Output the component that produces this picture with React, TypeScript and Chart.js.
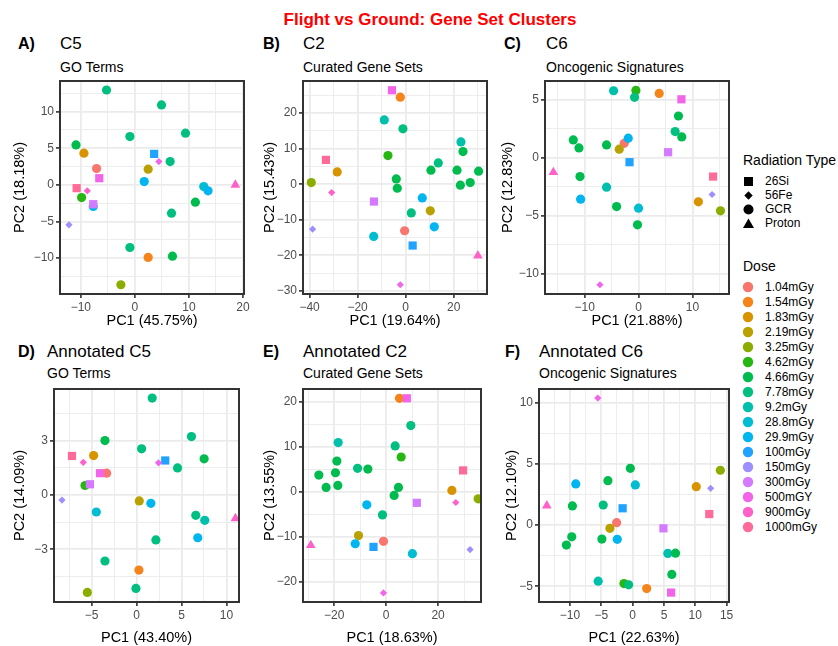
import React, { useEffect, useRef } from "react";
import { Chart, registerables } from "chart.js";

Chart.register(...registerables);

const FONT = "'Liberation Sans', Arial, Helvetica, sans-serif";

// ---------- legend categories ----------
const DOSES = [
  "1.04mGy", "1.54mGy", "1.83mGy", "2.19mGy", "3.25mGy", "4.62mGy", "4.66mGy",
  "7.78mGy", "9.2mGy", "28.8mGy", "29.9mGy", "100mGy", "150mGy", "300mGy",
  "500mGY", "900mGy", "1000mGy",
];
const DOSE_COLORS = [
  "#F8766D", "#F5841A", "#D89400", "#B8A100", "#8BAD00", "#26B712", "#00BC4F",
  "#00BF80", "#00C0AB", "#00BDD2", "#00B5F0", "#20A2FF", "#9C8FFF", "#D47AFF",
  "#F265E8", "#FE61C8", "#FF6B99",
];
const TYPES = ["26Si", "56Fe", "GCR", "Proton"];

// ---------- data: [PC1, PC2, dose, radiation type] ----------
type Pt = [number, number, string, string];

const C5_POINTS: Pt[] = [
  [-5.24, 12.95, "7.78mGy", "GCR"],
  [4.93, 10.91, "7.78mGy", "GCR"],
  [-0.92, 6.59, "7.78mGy", "GCR"],
  [9.37, 7.05, "7.78mGy", "GCR"],
  [-10.9, 5.45, "4.66mGy", "GCR"],
  [-9.43, 4.32, "1.83mGy", "GCR"],
  [-7.09, 2.23, "1.04mGy", "GCR"],
  [-6.59, 0.91, "500mGY", "26Si"],
  [-10.78, -0.45, "1000mGy", "26Si"],
  [-8.81, -0.82, "900mGy", "56Fe"],
  [-9.86, -1.73, "4.62mGy", "GCR"],
  [-7.7, -2.95, "29.9mGy", "GCR"],
  [-7.7, -2.64, "300mGy", "26Si"],
  [-12.2, -5.45, "150mGy", "56Fe"],
  [1.73, 0.45, "29.9mGy", "GCR"],
  [3.57, 4.23, "100mGy", "26Si"],
  [4.44, 3.18, "500mGY", "56Fe"],
  [2.46, 2.14, "2.19mGy", "GCR"],
  [6.53, 3.18, "7.78mGy", "GCR"],
  [11.2, -2.36, "4.66mGy", "GCR"],
  [6.78, -3.86, "7.78mGy", "GCR"],
  [12.75, -0.23, "28.8mGy", "GCR"],
  [13.55, -0.82, "29.9mGy", "GCR"],
  [18.6, 0.0, "900mGy", "Proton"],
  [-0.92, -8.55, "7.78mGy", "GCR"],
  [6.96, -9.73, "4.66mGy", "GCR"],
  [2.46, -9.91, "1.54mGy", "GCR"],
  [-2.59, -13.64, "3.25mGy", "GCR"],
];

const C2_POINTS: Pt[] = [
  [-5.69, 26.45, "500mGY", "26Si"],
  [-2.22, 24.5, "1.54mGy", "GCR"],
  [-8.89, 18.1, "9.2mGy", "GCR"],
  [-1.11, 15.6, "7.78mGy", "GCR"],
  [-7.36, 8.07, "4.62mGy", "GCR"],
  [-33.2, 6.85, "1000mGy", "26Si"],
  [-28.5, 3.47, "1.83mGy", "GCR"],
  [-39.3, 0.47, "3.25mGy", "GCR"],
  [-30.8, -2.35, "900mGy", "56Fe"],
  [-3.89, 1.5, "4.66mGy", "GCR"],
  [-3.47, -1.13, "4.66mGy", "GCR"],
  [-13.2, -4.88, "300mGy", "26Si"],
  [-38.75, -12.66, "150mGy", "56Fe"],
  [-13.3, -14.7, "28.8mGy", "GCR"],
  [-0.42, -13.1, "1.04mGy", "GCR"],
  [2.92, -17.26, "100mGy", "26Si"],
  [2.36, -8.07, "7.78mGy", "GCR"],
  [6.94, -3.85, "29.9mGy", "GCR"],
  [10.28, -7.5, "2.19mGy", "GCR"],
  [11.94, -12.0, "29.9mGy", "GCR"],
  [10.56, 3.94, "4.66mGy", "GCR"],
  [13.6, 6.0, "7.78mGy", "GCR"],
  [21.4, 3.94, "4.66mGy", "GCR"],
  [23.05, 11.9, "9.2mGy", "GCR"],
  [23.9, 9.19, "4.66mGy", "GCR"],
  [22.8, -0.28, "4.66mGy", "GCR"],
  [26.9, 0.47, "4.66mGy", "GCR"],
  [30.4, 3.66, "4.66mGy", "GCR"],
  [30.1, -20.1, "900mGy", "Proton"],
  [-2.22, -28.3, "500mGY", "56Fe"],
];

const C6_POINTS: Pt[] = [
  [-4.63, 5.8, "9.2mGy", "GCR"],
  [-0.49, 5.83, "4.62mGy", "GCR"],
  [-0.74, 5.23, "7.78mGy", "GCR"],
  [3.83, 5.57, "1.54mGy", "GCR"],
  [7.96, 5.06, "500mGY", "26Si"],
  [7.41, 3.62, "4.66mGy", "GCR"],
  [6.79, 2.27, "7.78mGy", "GCR"],
  [8.02, 1.81, "4.66mGy", "GCR"],
  [-12.1, 1.55, "4.66mGy", "GCR"],
  [-11.05, 0.86, "4.66mGy", "GCR"],
  [-5.93, 1.12, "4.66mGy", "GCR"],
  [-2.65, 1.26, "1.04mGy", "GCR"],
  [-1.91, 1.7, "29.9mGy", "GCR"],
  [-3.58, 0.75, "2.19mGy", "GCR"],
  [-1.67, -0.37, "100mGy", "26Si"],
  [5.49, 0.49, "300mGy", "26Si"],
  [-15.8, -1.24, "900mGy", "Proton"],
  [-10.86, -1.61, "4.66mGy", "GCR"],
  [-5.93, -2.53, "9.2mGy", "GCR"],
  [-10.74, -3.56, "29.9mGy", "GCR"],
  [-4.07, -4.2, "4.66mGy", "GCR"],
  [0.0, -4.34, "28.8mGy", "GCR"],
  [-0.19, -5.78, "4.66mGy", "GCR"],
  [13.83, -1.61, "1000mGy", "26Si"],
  [13.64, -3.16, "150mGy", "56Fe"],
  [11.1, -3.79, "1.83mGy", "GCR"],
  [15.2, -4.57, "3.25mGy", "GCR"],
  [-7.16, -10.95, "500mGY", "56Fe"],
];

const AC5_POINTS: Pt[] = [
  [1.74, 5.34, "7.78mGy", "GCR"],
  [6.11, 3.22, "7.78mGy", "GCR"],
  [-3.52, 3.0, "4.66mGy", "GCR"],
  [-4.78, 2.17, "1.83mGy", "GCR"],
  [0.56, 2.54, "7.78mGy", "GCR"],
  [7.52, 1.99, "4.66mGy", "GCR"],
  [3.19, 1.9, "100mGy", "26Si"],
  [2.44, 1.77, "500mGY", "56Fe"],
  [4.56, 1.49, "7.78mGy", "GCR"],
  [-7.19, 2.15, "1000mGy", "26Si"],
  [-5.93, 1.8, "900mGy", "56Fe"],
  [-3.33, 1.2, "1.04mGy", "GCR"],
  [-4.07, 1.2, "500mGY", "26Si"],
  [-5.74, 0.52, "4.62mGy", "GCR"],
  [-5.19, 0.59, "300mGy", "26Si"],
  [-8.3, -0.28, "150mGy", "56Fe"],
  [0.3, -0.33, "2.19mGy", "GCR"],
  [1.59, -0.46, "29.9mGy", "GCR"],
  [-4.48, -0.94, "28.8mGy", "GCR"],
  [6.59, -1.12, "7.78mGy", "GCR"],
  [7.59, -1.4, "9.2mGy", "GCR"],
  [11.0, -1.29, "900mGy", "Proton"],
  [6.81, -2.36, "29.9mGy", "GCR"],
  [2.15, -2.48, "7.78mGy", "GCR"],
  [-3.52, -3.64, "7.78mGy", "GCR"],
  [0.26, -4.14, "1.54mGy", "GCR"],
  [-0.07, -5.15, "7.78mGy", "GCR"],
  [-5.48, -5.37, "3.25mGy", "GCR"],
];

const AC2_POINTS: Pt[] = [
  [5.13, 20.7, "1.54mGy", "GCR"],
  [7.95, 20.7, "500mGY", "26Si"],
  [9.49, 14.67, "7.78mGy", "GCR"],
  [-18.46, 10.9, "9.2mGy", "GCR"],
  [3.46, 10.15, "7.78mGy", "GCR"],
  [5.77, 7.7, "4.62mGy", "GCR"],
  [-18.97, 6.81, "4.66mGy", "GCR"],
  [-11.0, 5.19, "7.78mGy", "GCR"],
  [-7.05, 5.04, "4.66mGy", "GCR"],
  [-25.9, 3.7, "4.66mGy", "GCR"],
  [-19.5, 4.22, "4.66mGy", "GCR"],
  [-23.1, 0.96, "4.66mGy", "GCR"],
  [-18.6, 1.41, "4.66mGy", "GCR"],
  [4.74, 0.96, "4.66mGy", "GCR"],
  [3.08, -0.81, "4.66mGy", "GCR"],
  [-7.44, -2.89, "29.9mGy", "GCR"],
  [-1.41, -5.11, "7.78mGy", "GCR"],
  [11.8, -2.44, "300mGy", "26Si"],
  [29.6, 4.74, "1000mGy", "26Si"],
  [25.3, 0.3, "1.83mGy", "GCR"],
  [26.8, -2.37, "900mGy", "56Fe"],
  [35.4, -1.56, "3.25mGy", "GCR"],
  [-10.64, -9.7, "2.19mGy", "GCR"],
  [-11.9, -11.5, "29.9mGy", "GCR"],
  [-29.0, -11.85, "900mGy", "Proton"],
  [-4.87, -12.2, "100mGy", "26Si"],
  [-1.03, -10.96, "1.04mGy", "GCR"],
  [10.1, -13.7, "28.8mGy", "GCR"],
  [32.3, -12.8, "150mGy", "56Fe"],
  [-1.03, -22.4, "500mGY", "56Fe"],
];

const AC6_POINTS: Pt[] = [
  [-5.56, 10.38, "500mGY", "56Fe"],
  [-0.37, 4.64, "4.66mGy", "GCR"],
  [14.0, 4.48, "3.25mGy", "GCR"],
  [-9.08, 3.36, "29.9mGy", "GCR"],
  [-3.95, 3.63, "4.66mGy", "GCR"],
  [0.43, 3.28, "28.8mGy", "GCR"],
  [10.15, 3.14, "1.83mGy", "GCR"],
  [12.45, 3.0, "150mGy", "56Fe"],
  [-13.7, 1.58, "900mGy", "Proton"],
  [-9.62, 1.56, "4.66mGy", "GCR"],
  [-4.7, 1.64, "7.78mGy", "GCR"],
  [-1.6, 1.37, "100mGy", "26Si"],
  [12.23, 0.9, "1000mGy", "26Si"],
  [-2.56, 0.19, "1.04mGy", "GCR"],
  [-3.63, -0.27, "2.19mGy", "GCR"],
  [4.91, -0.27, "300mGy", "26Si"],
  [-9.72, -0.96, "4.66mGy", "GCR"],
  [-10.58, -1.64, "4.66mGy", "GCR"],
  [-4.91, -1.15, "4.66mGy", "GCR"],
  [-2.46, -1.17, "29.9mGy", "GCR"],
  [5.61, -2.32, "9.2mGy", "GCR"],
  [6.84, -2.3, "4.66mGy", "GCR"],
  [6.25, -4.04, "4.66mGy", "GCR"],
  [-5.5, -4.59, "9.2mGy", "GCR"],
  [-1.39, -4.78, "4.62mGy", "GCR"],
  [-0.64, -4.89, "7.78mGy", "GCR"],
  [2.24, -5.19, "1.54mGy", "GCR"],
  [6.14, -5.52, "500mGY", "26Si"],
];

// ---------- axis ranges and tick labels ----------
const C5_X_RANGE = [-13.86, 20.2];
const C5_Y_RANGE = [-14.9, 14.18];
const C5_X_TICKS = [-10, 0, 10, 20];
const C5_Y_TICKS = [-10, -5, 0, 5, 10];

const C2_X_RANGE = [-42.75, 33.9];
const C2_Y_RANGE = [-30.9, 29.05];
const C2_X_TICKS = [-40, -20, 0, 20];
const C2_Y_TICKS = [-30, -20, -10, 0, 10, 20];

const C6_X_RANGE = [-17.35, 16.78];
const C6_Y_RANGE = [-11.75, 6.64];
const C6_X_TICKS = [-10, 0, 10];
const C6_Y_TICKS = [-10, -5, 0, 5];

const AC5_X_RANGE = [-9.19, 11.4];
const AC5_Y_RANGE = [-5.9, 5.84];
const AC5_X_TICKS = [-5, 0, 5, 10];
const AC5_Y_TICKS = [-3, 0, 3];

const AC2_X_RANGE = [-32.0, 36.5];
const AC2_Y_RANGE = [-24.4, 22.76];
const AC2_X_TICKS = [-20, 0, 20];
const AC2_Y_TICKS = [-20, -10, 0, 10, 20];

const AC6_X_RANGE = [-14.95, 15.38];
const AC6_Y_RANGE = [-6.29, 11.12];
const AC6_X_TICKS = [-10, -5, 0, 5, 10, 15];
const AC6_Y_TICKS = [-5, 0, 5, 10];

// ---------- helpers ----------
const SHAPE: Record<string, string> = { "26Si": "rect", "56Fe": "rectRot", GCR: "circle", Proton: "triangle" };
const RADIUS: Record<string, number> = { "26Si": 5.8, "56Fe": 3.6, GCR: 4.6, Proton: 5.6 };
const colorOf = (d: string) => DOSE_COLORS[DOSES.indexOf(d)] || "#888";
const fmt = (v: number) => (v < 0 ? "\u2212" + Math.abs(v) : String(v));

function allTicks(majors: number[], min: number, max: number) {
  const step = majors.length > 1 ? majors[1] - majors[0] : 1;
  const set: number[] = [];
  const add = (v: number) => {
    if (v > min && v < max && !set.some((s) => Math.abs(s - v) < 1e-9)) set.push(v);
  };
  majors.forEach((m) => {
    add(m);
    add(m - step / 2);
    add(m + step / 2);
  });
  return set.sort((a, b) => a - b);
}

function axisOpts(range: number[], majors: number[], title: string, isX: boolean, size: number) {
  const isMajor = (v: number) => majors.some((m) => Math.abs(m - v) < 1e-9);
  const values = allTicks(majors, range[0], range[1]);
  return {
    type: "linear",
    min: range[0],
    max: range[1],
    afterBuildTicks: (s: any) => {
      s.ticks = values.map((v) => ({ value: v }));
    },
    afterFit: (s: any) => {
      if (isX) s.height = size;
      else s.width = size;
    },
    ticks: {
      autoSkip: false,
      maxRotation: 0,
      minRotation: 0,
      padding: 2,
      color: "#4D4D4D",
      font: { family: FONT, size: 12 },
      callback: (v: any) => (isMajor(Number(v)) ? fmt(Number(v)) : ""),
    },
    grid: {
      color: "#EBEBEB",
      lineWidth: (c: any) => (c.tick && isMajor(c.tick.value) ? 1.8 : 0.9),
      drawTicks: true,
      tickLength: 4,
      tickWidth: 1.6,
      tickColor: (c: any) => (c.tick && isMajor(c.tick.value) ? "#333333" : "rgba(0,0,0,0)"),
    },
    border: { display: true, color: "#333333", width: 1.8 },
    title: {
      display: true,
      text: title,
      color: "#000000",
      padding: 0,
      font: { family: FONT, size: 14.5, lineHeight: 1.2 },
    },
  };
}

const framePlugin = {
  id: "panelFrame",
  afterDraw: (chart: any) => {
    const ctx = chart.ctx;
    const a = chart.chartArea;
    if (!a) return;
    ctx.save();
    ctx.setLineDash([]);
    ctx.globalAlpha = 1;
    ctx.globalCompositeOperation = "source-over";
    ctx.strokeStyle = "#333333";
    ctx.lineWidth = 1.8;
    ctx.strokeRect(Math.round(a.left), Math.round(a.top), Math.round(a.right - a.left), Math.round(a.bottom - a.top));
    ctx.restore();
  },
};

type Geo = { L: number; R: number; T: number; B: number; yTitleX: number; xTitleY: number };

function FrameBar(props: { left: number; top: number; width: number; height: number }) {
  return (
    <div
      style={{
        position: "absolute",
        left: props.left,
        top: props.top,
        width: props.width,
        height: props.height,
        background: "#333333",
        zIndex: 5,
        pointerEvents: "none",
      }}
    />
  );
}

function Panel(props: {
  points: Pt[];
  xRange: number[];
  yRange: number[];
  xTicks: number[];
  yTicks: number[];
  xTitle: string;
  yTitle: string;
  geo: Geo;
}) {
  const ref = useRef<HTMLCanvasElement | null>(null);
  const { geo } = props;
  const PAD_T = 10;
  const PAD_R = 16;
  const left = Math.round(geo.yTitleX - 8.7);
  const top = geo.T - PAD_T;
  const width = geo.R - left + PAD_R;
  const xH = Math.round(geo.xTitleY - geo.B + 8.7);
  const height = geo.B - top + xH;
  const yW = geo.L - left;

  useEffect(() => {
    if (!ref.current) return;
    const pts = props.points;
    const chart = new Chart(ref.current, {
      type: "scatter",
      data: {
        datasets: [
          {
            data: pts.map((p) => ({ x: p[0], y: p[1] })),
            pointStyle: pts.map((p) => SHAPE[p[3]]) as any,
            pointRadius: pts.map((p) => RADIUS[p[3]]),
            pointHoverRadius: pts.map((p) => RADIUS[p[3]]),
            pointBackgroundColor: pts.map((p) => colorOf(p[2])),
            pointBorderColor: pts.map((p) => colorOf(p[2])),
            pointBorderWidth: 0,
          } as any,
        ],
      },
      options: {
        responsive: false,
        animation: false,
        devicePixelRatio: 1,
        layout: { padding: { top: PAD_T, right: PAD_R, left: 0, bottom: 0 } },
        plugins: { legend: { display: false }, tooltip: { enabled: false } },
        scales: {
          x: axisOpts(props.xRange, props.xTicks, props.xTitle, true, xH) as any,
          y: axisOpts(props.yRange, props.yTicks, props.yTitle, false, yW) as any,
        },
      } as any,
      plugins: [framePlugin as any],
    });
    return () => chart.destroy();
  }, []);

  const w = geo.R - geo.L;
  const h = geo.B - geo.T;
  return (
    <>
      <canvas
        ref={ref}
        width={width}
        height={height}
        style={{ position: "absolute", left, top, width, height, zIndex: 1 }}
      />
      <FrameBar left={geo.L - 1} top={geo.T - 1} width={w + 2} height={2} />
      <FrameBar left={geo.L - 1} top={geo.B - 1} width={w + 2} height={2} />
      <FrameBar left={geo.L - 1} top={geo.T - 1} width={2} height={h + 2} />
      <FrameBar left={geo.R - 1} top={geo.T - 1} width={2} height={h + 2} />
    </>
  );
}

function Txt(props: { x: number; y: number; size: number; bold?: boolean; color?: string; center?: boolean; children: any }) {
  const { x, y, size, bold, color, center } = props;
  return (
    <div
      style={{
        position: "absolute",
        left: x,
        top: y - size * 0.6,
        fontSize: size,
        lineHeight: `${size * 1.2}px`,
        fontWeight: bold ? 700 : 400,
        color: color || "#000",
        whiteSpace: "nowrap",
        fontFamily: FONT,
        transform: center ? "translateX(-50%)" : undefined,
      }}
    >
      {props.children}
    </div>
  );
}

function ShapeKey({ type }: { type: string }) {
  if (type === "26Si") return <rect x={1} y={1} width={9} height={9} fill="#000" />;
  if (type === "56Fe") return <polygon points="5.5,1.3 9.7,5.5 5.5,9.7 1.3,5.5" fill="#000" />;
  if (type === "GCR") return <circle cx={5.5} cy={5.5} r={5} fill="#000" />;
  return <polygon points="5.5,0.5 11,10 0,10" fill="#000" />;
}

function Legend() {
  const typeY = [181, 195, 209.5, 223.5];
  return (
    <>
      <Txt x={743} y={160} size={14}>Radiation Type</Txt>
      {TYPES.map((t, i) => (
        <React.Fragment key={t}>
          <svg width={11} height={11} style={{ position: "absolute", left: 742.5, top: typeY[i] - 5.5 }}>
            <ShapeKey type={t} />
          </svg>
          <Txt x={765} y={typeY[i]} size={12}>{t}</Txt>
        </React.Fragment>
      ))}
      <Txt x={743} y={266} size={14}>Dose</Txt>
      {DOSES.map((d, i) => (
        <React.Fragment key={d}>
          <svg width={12} height={12} style={{ position: "absolute", left: 742, top: 287 + 15 * i - 6 }}>
            <circle cx={6} cy={6} r={5.2} fill={DOSE_COLORS[i]} />
          </svg>
          <Txt x={765} y={287 + 15 * i} size={12}>{d}</Txt>
        </React.Fragment>
      ))}
    </>
  );
}

export default function App() {
  return (
    <div
      style={{
        position: "absolute",
        left: 0,
        top: 0,
        width: 838,
        height: 646,
        background: "#ffffff",
        overflow: "hidden",
        fontFamily: FONT,
      }}
    >
      <Txt x={430} y={20} size={17} bold color="#FF0000" center>
        Flight vs Ground: Gene Set Clusters
      </Txt>

      {/* Row 1 labels */}
      <Txt x={18} y={44} size={16} bold>A)</Txt>
      <Txt x={60} y={44} size={17}>C5</Txt>
      <Txt x={60} y={67} size={14}>GO Terms</Txt>
      <Txt x={263} y={44} size={16} bold>B)</Txt>
      <Txt x={303} y={44} size={17}>C2</Txt>
      <Txt x={303} y={67} size={14}>Curated Gene Sets</Txt>
      <Txt x={504} y={44} size={16} bold>C)</Txt>
      <Txt x={546} y={44} size={17}>C6</Txt>
      <Txt x={546} y={67} size={14}>Oncogenic Signatures</Txt>

      {/* Row 2 labels */}
      <Txt x={18} y={352} size={16} bold>D)</Txt>
      <Txt x={47} y={352} size={17}>Annotated C5</Txt>
      <Txt x={47} y={373} size={14}>GO Terms</Txt>
      <Txt x={263} y={352} size={16} bold>E)</Txt>
      <Txt x={303} y={352} size={17}>Annotated C2</Txt>
      <Txt x={303} y={373} size={14}>Curated Gene Sets</Txt>
      <Txt x={505} y={352} size={16} bold>F)</Txt>
      <Txt x={539} y={352} size={17}>Annotated C6</Txt>
      <Txt x={539} y={373} size={14}>Oncogenic Signatures</Txt>

      <Panel points={C5_POINTS} xRange={C5_X_RANGE} yRange={C5_Y_RANGE} xTicks={C5_X_TICKS} yTicks={C5_Y_TICKS}
        xTitle="PC1 (45.75%)" yTitle="PC2 (18.18%)" geo={{ L: 60, R: 244, T: 81, B: 294, yTitleX: 20, xTitleY: 321 }} />
      <Panel points={C2_POINTS} xRange={C2_X_RANGE} yRange={C2_Y_RANGE} xTicks={C2_X_TICKS} yTicks={C2_Y_TICKS}
        xTitle="PC1 (19.64%)" yTitle="PC2 (15.43%)" geo={{ L: 303, R: 487, T: 81, B: 294, yTitleX: 270, xTitleY: 321 }} />
      <Panel points={C6_POINTS} xRange={C6_X_RANGE} yRange={C6_Y_RANGE} xTicks={C6_X_TICKS} yTicks={C6_Y_TICKS}
        xTitle="PC1 (21.88%)" yTitle="PC2 (12.83%)" geo={{ L: 545, R: 729, T: 81, B: 294, yTitleX: 508, xTitleY: 321 }} />
      <Panel points={AC5_POINTS} xRange={AC5_X_RANGE} yRange={AC5_Y_RANGE} xTicks={AC5_X_TICKS} yTicks={AC5_Y_TICKS}
        xTitle="PC1 (43.40%)" yTitle="PC2 (14.09%)" geo={{ L: 54, R: 239, T: 389, B: 602, yTitleX: 20, xTitleY: 638 }} />
      <Panel points={AC2_POINTS} xRange={AC2_X_RANGE} yRange={AC2_Y_RANGE} xTicks={AC2_X_TICKS} yTicks={AC2_Y_TICKS}
        xTitle="PC1 (18.63%)" yTitle="PC2 (13.55%)" geo={{ L: 303, R: 481, T: 389, B: 602, yTitleX: 270, xTitleY: 638 }} />
      <Panel points={AC6_POINTS} xRange={AC6_X_RANGE} yRange={AC6_Y_RANGE} xTicks={AC6_X_TICKS} yTicks={AC6_Y_TICKS}
        xTitle="PC1 (22.63%)" yTitle="PC2 (12.10%)" geo={{ L: 539, R: 729, T: 389, B: 602, yTitleX: 512, xTitleY: 638 }} />

      <Legend />
    </div>
  );
}
